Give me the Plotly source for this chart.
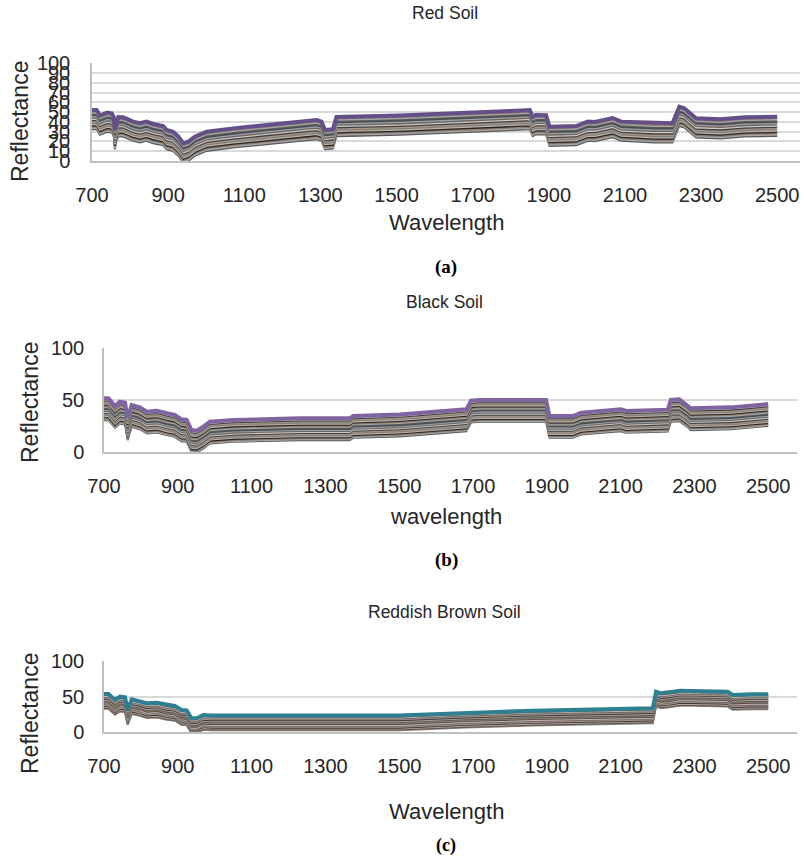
import plotly.graph_objects as go

# ---------------- data ----------------
tick_labels = [700, 900, 1100, 1300, 1500, 1700, 1900, 2100, 2300, 2500]

# Red soil: wavelength key points and the uppermost spectrum
red_wl = [700, 712, 721, 730, 740, 752, 757, 760, 764, 769, 782, 808, 826, 843, 861, 887, 896,
          913, 927, 940, 953, 970, 1001, 1071, 1290, 1303, 1312, 1333, 1342, 1377, 1508, 1815,
          1850, 1858, 1866, 1893, 1902, 1972, 2003, 2021, 2068, 2090, 2177, 2225, 2243, 2256,
          2287, 2352, 2414, 2500]
red_top = [52.2, 52.2, 46.5, 48.0, 49.5, 48.8, 45.0, 31.7, 40.0, 45.0, 44.7, 40.3, 38.6, 40.3,
           37.9, 35.8, 31.7, 30.0, 24.9, 18.1, 19.8, 24.9, 30.0, 33.4, 42.0, 40.3, 31.7, 32.4,
           45.0, 45.4, 46.5, 51.5, 52.2, 45.3, 47.0, 46.9, 35.0, 35.7, 40.3, 40.0, 44.0, 40.3,
           38.6, 38.6, 55.6, 53.9, 43.7, 42.7, 44.7, 45.4]
# distance of each lower spectrum below the uppermost one
red_offsets = [1.5, 2.8, 4.1, 5.4, 6.7, 8.0, 9.3, 10.6, 11.9, 13.2, 14.5, 15.8, 17.1, 18.4, 19.7]

# Black soil
black_wl = [700, 712, 730, 743, 757, 764, 775, 797, 816, 843, 870, 892, 910, 924, 937, 951, 969,
            987, 1050, 1231, 1366, 1375, 1501, 1682, 1695, 1718, 1898, 1907, 1970, 1993, 2101,
            2115, 2228, 2236, 2259, 2281, 2290, 2399, 2500]
black_top = [51.9, 51.9, 44.5, 48.7, 47.7, 32.7, 45.5, 43.2, 39.1, 40.0, 37.5, 35.9, 31.7, 31.1,
             21.4, 20.8, 24.6, 29.4, 31.1, 32.7, 32.7, 34.9, 36.3, 41.3, 49.6, 50.3, 50.3, 34.9,
             34.9, 38.0, 41.3, 39.7, 41.0, 50.3, 50.9, 45.5, 42.3, 43.2, 46.4]
black_offsets = [1.2, 2.2, 3.2, 4.2, 5.2, 6.2, 7.2, 8.2, 9.2, 10.2, 11.2, 12.2, 13.2, 14.2,
                 15.2, 16.2, 17.2, 18.2, 19.2, 20.2, 21.0]

# Reddish brown soil
rb_wl = [700, 712, 730, 743, 757, 764, 775, 797, 816, 843, 870, 892, 910, 924, 937, 951, 969,
         990, 1500, 1682, 1862, 2187, 2196, 2209, 2227, 2263, 2390, 2403, 2453, 2500]
rb_top = [53.7, 53.7, 45.3, 50.0, 49.0, 31.3, 46.3, 43.9, 40.7, 41.6, 38.3, 37.0, 31.3, 30.8,
          19.6, 19.6, 24.3, 23.5, 23.5, 27.5, 30.3, 33.6, 57.0, 54.7, 55.5, 58.4, 57.0, 52.3,
          53.2, 53.2]
rb_offsets = [1.4, 2.7, 4.0, 5.3, 6.6, 7.9, 9.2, 10.5, 11.8, 13.1, 14.4, 15.7, 17.0, 18.3,
              19.6, 20.8]

# ---------------- styling ----------------
W, H = 804, 856
FONT = "Liberation Sans, Arial, sans-serif"
TXT = "#262626"
stripe_a = ['#595959', '#a6a6a6', '#8c7b6e', '#262626', '#bfb1a4', '#7f7f7f', '#a89585',
            '#404040', '#c9c9c9', '#6f6259', '#9aa3ad', '#4d4d4d']
stripe_c = ['#8c8079', '#5e5550', '#b0a49c', '#3d3835', '#a39790', '#6f6560', '#c4b8b0',
            '#4f4844']


def fx(p):
    return p / W


def fy(p):
    return 1 - p / H


fig = go.Figure()

panels = [
    dict(wl=red_wl, top=red_top, offs=red_offsets, top_color='#654f88', stripes=stripe_a,
         xa='x', ya='y'),
    dict(wl=black_wl, top=black_top, offs=black_offsets, top_color='#8064a2', stripes=stripe_a,
         xa='x2', ya='y2'),
    dict(wl=rb_wl, top=rb_top, offs=rb_offsets, top_color='#2f7f93', stripes=stripe_c,
         xa='x3', ya='y3'),
]

for p in panels:
    for i, off in enumerate(reversed(p['offs'])):
        fig.add_trace(go.Scatter(
            x=p['wl'], y=[v - off for v in p['top']], mode='lines',
            line=dict(color=p['stripes'][i % len(p['stripes'])], width=2),
            xaxis=p['xa'], yaxis=p['ya'], showlegend=False, hoverinfo='skip'))
    fig.add_trace(go.Scatter(
        x=p['wl'], y=p['top'], mode='lines',
        line=dict(color=p['top_color'], width=4),
        xaxis=p['xa'], yaxis=p['ya'], showlegend=False, hoverinfo='skip'))

common_x = dict(tickmode='array', tickvals=tick_labels, ticktext=[str(t) for t in tick_labels],
                showgrid=False, zeroline=False, showline=True, linecolor='#bfbfbf', linewidth=1.5,
                ticks='outside', ticklen=15, tickcolor='rgba(0,0,0,0)', automargin=False,
                tickfont=dict(family=FONT, size=20, color=TXT))
common_y = dict(showgrid=True, gridcolor='#d9d9d9', gridwidth=1.5, zeroline=False,
                showline=True, linecolor='#bfbfbf', linewidth=1.5, range=[0, 100], tick0=0,
                ticks='outside', tickcolor='rgba(0,0,0,0)', automargin=False,
                tickfont=dict(family=FONT, size=20, color=TXT))

fig.update_layout(
    width=W, height=H, autosize=False,
    margin=dict(l=0, r=0, t=0, b=0, pad=0, autoexpand=False),
    paper_bgcolor='white', plot_bgcolor='white',
    xaxis=dict(common_x, domain=[fx(92), fx(800)], range=[700, 2560], anchor='y'),
    yaxis=dict(common_y, domain=[fy(161), fy(63.3)], dtick=10, ticklen=16, anchor='x'),
    xaxis2=dict(common_x, domain=[fx(104), fx(797)], range=[700, 2578], anchor='y2'),
    yaxis2=dict(common_y, domain=[fy(452.3), fy(348.3)], dtick=50, ticklen=14, anchor='x2'),
    xaxis3=dict(common_x, domain=[fx(104), fx(797)], range=[700, 2578], anchor='y3'),
    yaxis3=dict(common_y, domain=[fy(732.3), fy(661)], dtick=50, ticklen=14, anchor='x3'),
)

texts = [
    # (text, x px, y px, size, angle, family, bold)
    ("Red Soil", 445, 13, 17.5, 0, FONT, False),
    ("Wavelength", 446, 222, 22, 0, FONT, False),
    ("Reflectance", 20, 122, 23, -90, FONT, False),
    ("(a)", 446, 267, 19, 0, "Liberation Serif, Times New Roman, serif", True),
    ("Black Soil", 445, 302, 17.5, 0, FONT, False),
    ("wavelength", 446, 516, 22, 0, FONT, False),
    ("Reflectance", 30, 403, 23, -90, FONT, False),
    ("(b)", 446, 560, 19, 0, "Liberation Serif, Times New Roman, serif", True),
    ("Reddish Brown Soil", 445, 612, 17.5, 0, FONT, False),
    ("Wavelength", 446, 811, 22, 0, FONT, False),
    ("Reflectance", 30, 714, 23, -90, FONT, False),
    ("(c)", 446, 845, 18, 0, "Liberation Serif, Times New Roman, serif", True),
]
for t, x, y, s, ang, fam, bold in texts:
    fig.add_annotation(text=(f"<b>{t}</b>" if bold else t), x=fx(x), y=fy(y),
                       xref='paper', yref='paper', xanchor='center', yanchor='middle',
                       showarrow=False, textangle=ang,
                       font=dict(family=fam, size=s, color=TXT if not bold else '#000'))

fig.write_html("out.html")
